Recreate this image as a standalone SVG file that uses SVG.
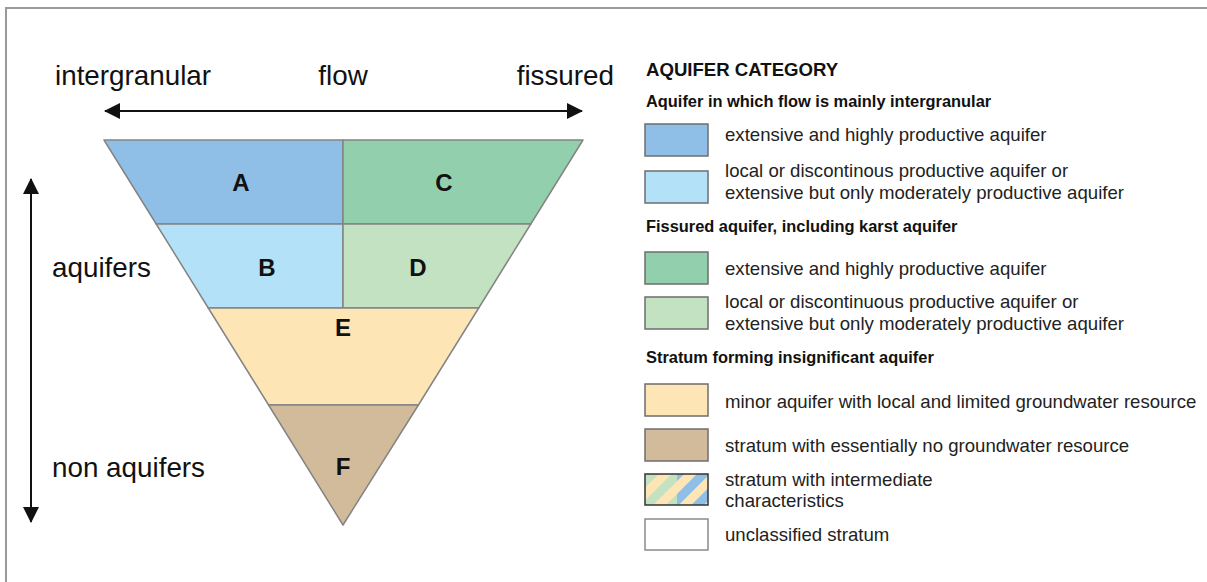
<svg xmlns="http://www.w3.org/2000/svg" width="1207" height="582" viewBox="0 0 1207 582">
<defs>
<style>
.lbl{font-family:"Liberation Sans",Arial,sans-serif;font-size:27.8px;fill:#111}
.let{font-family:"Liberation Sans",Arial,sans-serif;font-size:24px;font-weight:bold;fill:#111;text-anchor:middle}
.seg{stroke:#848484;stroke-width:1.5;stroke-linejoin:round}
.sw{stroke:#6e6e6e;stroke-width:1.5}
.lt{font-family:"Liberation Sans",Arial,sans-serif;font-size:18.6px;fill:#222}
.hd{font-family:"Liberation Sans",Arial,sans-serif;font-size:16.4px;font-weight:bold;fill:#111}
.ttl{font-family:"Liberation Sans",Arial,sans-serif;font-size:18.6px;font-weight:bold;fill:#111}
.ax{stroke:#111;stroke-width:2;fill:none}
</style>
<marker id="ah" viewBox="0 0 16 16" refX="15" refY="8" markerWidth="16" markerHeight="16" markerUnits="userSpaceOnUse" orient="auto-start-reverse">
<path d="M0,0 L16,8 L0,16 z" fill="#111"/>
</marker>
<pattern id="hg" width="18" height="18" patternUnits="userSpaceOnUse" patternTransform="rotate(45)">
<rect width="18" height="18" fill="#fde5b6"/>
<rect width="9" height="18" fill="#c3e2c2"/>
</pattern>
<pattern id="hb" width="18" height="18" patternUnits="userSpaceOnUse" patternTransform="rotate(45)">
<rect width="18" height="18" fill="#fde5b6"/>
<rect width="9" height="18" fill="#8fbfe6"/>
</pattern>
</defs>
<rect width="1207" height="582" fill="#fff"/>
<path d="M6,582 V8 H1207" fill="none" stroke="#9a9a9a" stroke-width="2"/>

<g id="axes">
<line class="ax" x1="105" y1="111" x2="582" y2="111" marker-start="url(#ah)" marker-end="url(#ah)"/>
<line class="ax" x1="31" y1="179" x2="31" y2="522" marker-start="url(#ah)" marker-end="url(#ah)"/>
</g>
<g id="axis-labels">
<text class="lbl" x="55" y="85">intergranular</text>
<text class="lbl" x="343" y="85" text-anchor="middle">flow</text>
<text class="lbl" x="614" y="85" text-anchor="end">fissured</text>
<text class="lbl" x="52" y="277">aquifers</text>
<text class="lbl" x="52" y="477">non aquifers</text>
</g>

<g id="node-A"><path class="seg" d="M104,140 H343 V224 H156.2 Z" fill="#8fbfe6"/><text class="let" x="241" y="191">A</text></g>
<g id="node-C"><path class="seg" d="M343,140 H583 L530.8,224 H343 Z" fill="#92d0ad"/><text class="let" x="444" y="191">C</text></g>
<g id="node-B"><path class="seg" d="M156.2,224 H343 V308 H208.3 Z" fill="#b3e1f7"/><text class="let" x="267" y="276">B</text></g>
<g id="node-D"><path class="seg" d="M343,224 H530.8 L478.7,308 H343 Z" fill="#c3e2c2"/><text class="let" x="418" y="276">D</text></g>
<g id="node-E"><path class="seg" d="M208.3,308 H478.7 L418.4,405 H268.6 Z" fill="#fde5b6"/><text class="let" x="343" y="336">E</text></g>
<g id="node-F"><path class="seg" d="M268.6,405 H418.4 L343,525 Z" fill="#d1bb9b"/><text class="let" x="343" y="475">F</text></g>

<g id="legend">
<text class="ttl" x="646" y="76">AQUIFER CATEGORY</text>
<text class="hd" x="646" y="107">Aquifer in which flow is mainly intergranular</text>
<rect class="sw" x="645" y="124" width="63" height="32" fill="#8fbfe6"/>
<text class="lt" x="725" y="141">extensive and highly productive aquifer</text>
<rect class="sw" x="645" y="171" width="63" height="32" fill="#b3e1f7"/>
<text class="lt" x="725" y="177">local or discontinous productive aquifer or</text>
<text class="lt" x="725" y="199">extensive but only moderately productive aquifer</text>

<text class="hd" x="646" y="232">Fissured aquifer, including karst aquifer</text>
<rect class="sw" x="645" y="252" width="63" height="32" fill="#92d0ad"/>
<text class="lt" x="725" y="275">extensive and highly productive aquifer</text>
<rect class="sw" x="645" y="297" width="63" height="32" fill="#c3e2c2"/>
<text class="lt" x="725" y="308">local or discontinuous productive aquifer or</text>
<text class="lt" x="725" y="330">extensive but only moderately productive aquifer</text>

<text class="hd" x="646" y="363">Stratum forming insignificant aquifer</text>
<rect class="sw" x="645" y="384" width="63" height="32" fill="#fde5b6"/>
<text class="lt" x="725" y="408">minor aquifer with local and limited groundwater resource</text>
<rect class="sw" x="645" y="429" width="63" height="32" fill="#d1bb9b"/>
<text class="lt" x="725" y="452">stratum with essentially no groundwater resource</text>
<rect x="645" y="474" width="32" height="31" fill="url(#hg)"/>
<rect x="677" y="474" width="31" height="31" fill="url(#hb)"/>
<rect x="645" y="474" width="63" height="31" fill="none" stroke="#333" stroke-width="1.5"/>
<text class="lt" x="725" y="486">stratum with intermediate</text>
<text class="lt" x="725" y="507">characteristics</text>
<rect x="645" y="519" width="63" height="31" fill="#fff" stroke="#8a8a8a" stroke-width="1.5"/>
<text class="lt" x="725" y="541">unclassified stratum</text>
</g>
</svg>
